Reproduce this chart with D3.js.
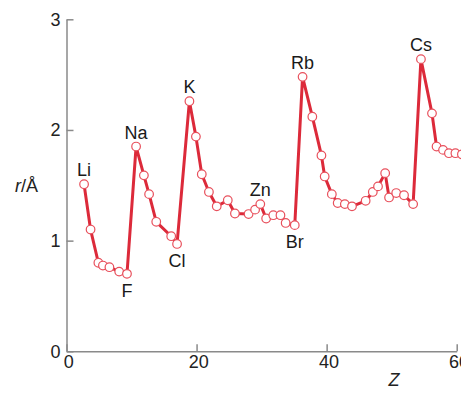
<!DOCTYPE html>
<html>
<head>
<meta charset="utf-8">
<script src="https://cdn.jsdelivr.net/npm/d3@7"></script>
<style>
  html, body { margin: 0; padding: 0; background: #fff; }
  svg { display: block; font-family: "Liberation Sans", Arial, sans-serif; }
  .axis path, .axis line { stroke: #8a8a8a; stroke-width: 1.5; }
  .axis text { font-size: 18px; fill: #222; font-family: "Liberation Sans", Arial, sans-serif; }
</style>
</head>
<body>
<svg id="chart" width="461" height="398"></svg>
<script>
// atomic number Z (as plotted) and radius r in Å
const zValues = [
  2.7, 3.7, 4.9, 5.6, 6.6, 8.1, 9.3,
  10.7, 11.9, 12.7, 13.8, 16.1, 17.0,
  18.9, 19.9, 20.8, 21.9, 23.1, 24.8, 25.9, 28.0, 29.0, 29.8, 30.7, 31.8, 32.9, 33.7, 35.1,
  36.3, 37.8, 39.2, 39.7, 40.8, 41.7, 42.8, 43.9, 46.0, 47.1, 47.9, 49.0, 49.6, 50.7, 51.9, 53.3,
  54.5, 56.2, 56.9, 57.9, 58.8, 59.8, 60.8
];
const rValues = [
  1.51, 1.10, 0.80, 0.775, 0.76, 0.72, 0.70,
  1.85, 1.59, 1.42, 1.17, 1.04, 0.97,
  2.26, 1.94, 1.60, 1.44, 1.31, 1.365, 1.245, 1.24, 1.28, 1.33, 1.20, 1.23, 1.23, 1.16, 1.14,
  2.48, 2.12, 1.77, 1.58, 1.42, 1.34, 1.33, 1.31, 1.36, 1.44, 1.49, 1.61, 1.39, 1.43, 1.41, 1.33,
  2.64, 2.15, 1.85, 1.82, 1.79, 1.79, 1.78
];
// labelled elements: index into the series, and whether the label sits above or below
const labelNames = ["Li", "F", "Na", "Cl", "K", "Zn", "Br", "Rb", "Cs"];
const labelIndex = [0, 6, 7, 12, 13, 22, 27, 28, 44];
const labelSide  = ["up", "down", "up", "down", "up", "up", "down", "up", "up"];

const xTicks = [0, 20, 40, 60];
const yTicks = [0, 1, 2, 3];

const svg = d3.select("#chart");

const x = d3.scaleLinear().domain([0, 60]).range([66.5, 456.7]);
const y = d3.scaleLinear().domain([0, 3]).range([351.3, 19.3]);

// axes, ticks pointing inward
svg.append("g")
  .attr("class", "axis")
  .attr("transform", `translate(0,${y(0)})`)
  .call(d3.axisBottom(x).tickValues(xTicks).tickFormat(d3.format("d"))
    .tickSize(-7).tickSizeOuter(0).tickPadding(4))
  .call(g => g.selectAll(".tick text").attr("dx", "0.1em"));

svg.append("g")
  .attr("class", "axis")
  .attr("transform", `translate(${x(0)},0)`)
  .call(d3.axisLeft(y).tickValues(yTicks).tickFormat(d3.format("d"))
    .tickSize(-7).tickSizeOuter(0).tickPadding(6));

// axis titles
const rLabel = svg.append("text")
  .attr("x", 15).attr("y", 192)
  .attr("font-size", 18).attr("fill", "#222");
rLabel.append("tspan").attr("font-style", "italic").text("r");
rLabel.append("tspan").text("/Å");

svg.append("text")
  .attr("x", 394).attr("y", 386)
  .attr("text-anchor", "middle")
  .attr("font-size", 18).attr("font-style", "italic").attr("fill", "#222")
  .text("Z");

const pts = zValues.map((z, i) => [z, rValues[i]]);

const line = d3.line().x(d => x(d[0])).y(d => y(d[1]));

svg.append("path")
  .datum(pts)
  .attr("d", line)
  .attr("fill", "none")
  .attr("stroke", "#dc2a3a")
  .attr("stroke-width", 3)
  .attr("stroke-linejoin", "round");

svg.append("g")
  .selectAll("circle")
  .data(pts)
  .join("circle")
  .attr("cx", d => x(d[0]))
  .attr("cy", d => y(d[1]))
  .attr("r", 4.3)
  .attr("fill", "#fff")
  .attr("stroke", "#e8505c")
  .attr("stroke-width", 1.2);

// element labels
svg.append("g")
  .selectAll("text")
  .data(labelNames)
  .join("text")
  .attr("x", (d, i) => x(zValues[labelIndex[i]]))
  .attr("y", (d, i) => y(rValues[labelIndex[i]]) + (labelSide[i] === "up" ? -8 : 23))
  .attr("text-anchor", "middle")
  .attr("font-size", 18)
  .attr("fill", "#1a1a1a")
  .text(d => d);
</script>
</body>
</html>
